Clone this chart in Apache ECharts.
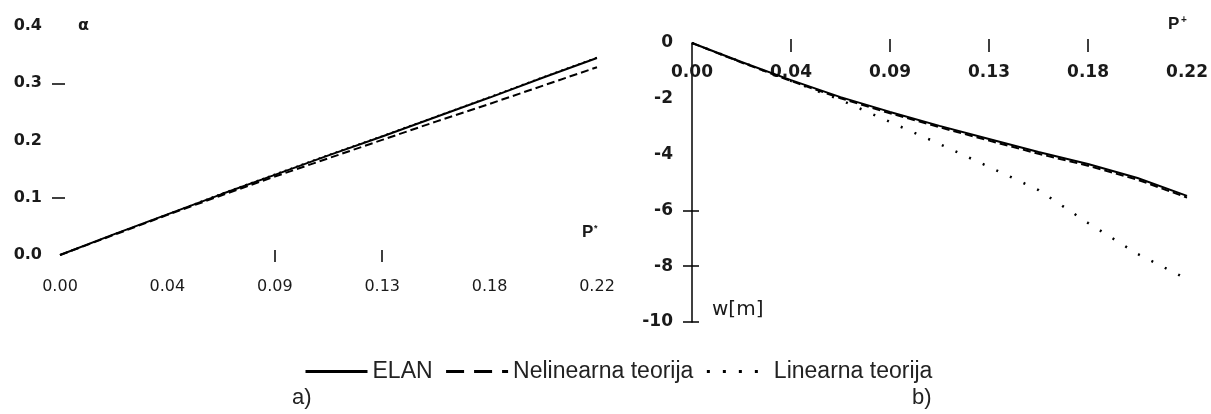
<!DOCTYPE html>
<html>
<head>
<meta charset="utf-8">
<script src="https://cdn.jsdelivr.net/npm/echarts@6/dist/echarts.min.js"></script>
<style>
  html, body { margin: 0; padding: 0; background: #fff; }
  #chart { width: 1211px; height: 414px; }
</style>
</head>
<body>
<div id="chart"></div>
<script>
// P* vrijednosti (zajednicke za oba grafa)
var pValues = [0, 0.022, 0.044, 0.066, 0.088, 0.11, 0.132, 0.154, 0.176, 0.198, 0.22];

// a) kut alfa
var alphaElan  = [0, 0.036, 0.071, 0.106, 0.140, 0.174, 0.207, 0.241, 0.275, 0.310, 0.344];
var alphaNelin = [0, 0.035, 0.070, 0.104, 0.137, 0.169, 0.201, 0.233, 0.264, 0.296, 0.328];
var alphaLin   = [0, 0.036, 0.071, 0.107, 0.141, 0.175, 0.208, 0.242, 0.276, 0.311, 0.345];

// b) progib w[m]
var wElan  = [0, -0.68, -1.33, -1.94, -2.47, -2.97, -3.44, -3.91, -4.34, -4.84, -5.48];
var wNelin = [0, -0.70, -1.36, -1.98, -2.52, -3.02, -3.50, -3.97, -4.40, -4.90, -5.54];
var wLin   = [0, -0.68, -1.36, -2.04, -2.83, -3.62, -4.44, -5.27, -6.45, -7.56, -8.46];

var seriesNames = ['ELAN', 'Nelinearna teorija', 'Linearna teorija'];
var xTicksLeft = [0.088, 0.132];
var yTicksLeft = [0.1, 0.3];
var xTicksRight = [0.044, 0.088, 0.132, 0.176];
var yTicksRight = [-10, -8, -6];

function pairs(ys) {
  return pValues.map(function (p, i) { return [p, ys[i]]; });
}

var myChart = echarts.init(document.getElementById('chart'));
var dark = '#1a1a1a';
var fmt = function (v) { return v.toFixed(2); };

option = {
  animation: false,
  backgroundColor: '#fff',
  grid: [
    { left: 60, top: 26, width: 537, height: 229 },
    { left: 692, top: 43, width: 498, height: 279 }
  ],
  legend: {
    left: 299,
    top: 355,
    itemWidth: 62,
    itemHeight: 14,
    itemGap: 12,
    selectedMode: false,
    itemStyle: { opacity: 0 },
    textStyle: { fontFamily: 'Liberation Sans', fontSize: 23, color: '#222' },
    data: [
      { name: seriesNames[0], lineStyle: { type: 'solid', width: 3, color: '#000' } },
      { name: seriesNames[1], lineStyle: { type: [18, 10], width: 3, color: '#000' } },
      { name: seriesNames[2], lineStyle: { type: [3, 13], width: 3, color: '#000' } }
    ]
  },
  xAxis: [
    {
      gridIndex: 0, type: 'value', min: 0, max: 0.22, interval: 0.044,
      position: 'bottom', offset: -5,
      axisLine: { show: false, onZero: false },
      axisTick: { show: true, length: 12, customValues: xTicksLeft, lineStyle: { color: '#000', width: 1.5 } },
      axisLabel: { margin: 29, formatter: fmt, fontFamily: 'DejaVu Sans', fontSize: 16, color: dark },
      splitLine: { show: false }
    },
    {
      gridIndex: 1, type: 'value', min: 0, max: 0.22, interval: 0.044,
      position: 'top', offset: 4,
      axisLine: { show: false, onZero: false },
      axisTick: { show: true, inside: true, length: 13, customValues: xTicksRight, lineStyle: { color: '#000', width: 1.5 } },
      axisLabel: { inside: true, margin: 25, formatter: fmt, fontFamily: 'DejaVu Sans', fontWeight: 'bold', fontSize: 17, color: dark },
      splitLine: { show: false }
    }
  ],
  yAxis: [
    {
      gridIndex: 0, type: 'value', min: 0, max: 0.4, interval: 0.1,
      position: 'left', offset: -5,
      axisLine: { show: false, onZero: false },
      axisTick: { show: true, length: 13, customValues: yTicksLeft, lineStyle: { color: '#000', width: 1.5 } },
      axisLabel: { margin: 23, formatter: function (v) { return v.toFixed(1); }, fontFamily: 'DejaVu Sans', fontWeight: 'bold', fontSize: 16, color: dark },
      splitLine: { show: false }
    },
    {
      gridIndex: 1, type: 'value', min: -10, max: 0, interval: 2,
      position: 'left',
      axisLine: { show: true, onZero: false, lineStyle: { color: '#000', width: 1.5 } },
      axisTick: { show: true, length: 9, customValues: yTicksRight, lineStyle: { color: '#000', width: 1.5 } },
      axisLabel: { margin: 19, fontFamily: 'DejaVu Sans', fontWeight: 'bold', fontSize: 17, color: dark },
      splitLine: { show: false }
    },
    {
      // samo unutarnji dio crtica na osi w
      gridIndex: 1, type: 'value', min: -10, max: 0, interval: 2,
      position: 'left',
      axisLine: { show: false, onZero: false },
      axisTick: { show: true, inside: true, length: 7, customValues: yTicksRight, lineStyle: { color: '#000', width: 1.5 } },
      axisLabel: { show: false },
      splitLine: { show: false }
    }
  ],
  series: [
    { name: seriesNames[0], type: 'line', xAxisIndex: 0, yAxisIndex: 0, symbol: 'none', data: pairs(alphaElan),
      lineStyle: { color: '#000', width: 2 }, itemStyle: { color: '#000' } },
    { name: seriesNames[1], type: 'line', xAxisIndex: 0, yAxisIndex: 0, symbol: 'none', data: pairs(alphaNelin),
      lineStyle: { color: '#000', width: 2, type: [8, 4] }, itemStyle: { color: '#000' } },
    { name: seriesNames[2], type: 'line', xAxisIndex: 0, yAxisIndex: 0, symbol: 'none', data: pairs(alphaLin),
      lineStyle: { color: '#000', width: 1.5, type: [2, 4] }, itemStyle: { color: '#000' } },
    { name: seriesNames[0], type: 'line', xAxisIndex: 1, yAxisIndex: 1, symbol: 'none', data: pairs(wElan),
      lineStyle: { color: '#000', width: 2 }, itemStyle: { color: '#000' } },
    { name: seriesNames[1], type: 'line', xAxisIndex: 1, yAxisIndex: 1, symbol: 'none', data: pairs(wNelin),
      lineStyle: { color: '#000', width: 2, type: [8, 4] }, itemStyle: { color: '#000' } },
    { name: seriesNames[2], type: 'line', xAxisIndex: 1, yAxisIndex: 1, symbol: 'none', data: pairs(wLin),
      lineStyle: { color: '#000', width: 2.5, type: [2, 13] }, itemStyle: { color: '#000' } }
  ],
  graphic: [
    { type: 'text', left: 78, top: 18, style: { text: 'α', font: 'bold 16px DejaVu Sans', fill: dark } },
    { type: 'text', left: 582, top: 224, style: { text: 'P', font: 'bold 17px Liberation Sans', fill: dark } },
    { type: 'text', left: 594, top: 224, style: { text: '*', font: 'bold 9px Liberation Sans', fill: dark } },
    { type: 'text', left: 1168, top: 16, style: { text: 'P', font: 'bold 17px Liberation Sans', fill: dark } },
    { type: 'text', left: 1181, top: 15, style: { text: '+', font: 'bold 10px Liberation Sans', fill: dark } },
    { type: 'text', left: 712, top: 300, style: { text: 'w[m]', font: '20px DejaVu Sans', fill: dark } },
    { type: 'text', left: 292, top: 387, style: { text: 'a)', font: '22px Liberation Sans', fill: '#222' } },
    { type: 'text', left: 912, top: 387, style: { text: 'b)', font: '22px Liberation Sans', fill: '#222' } }
  ]
};
myChart.setOption(option);
</script>
</body>
</html>
